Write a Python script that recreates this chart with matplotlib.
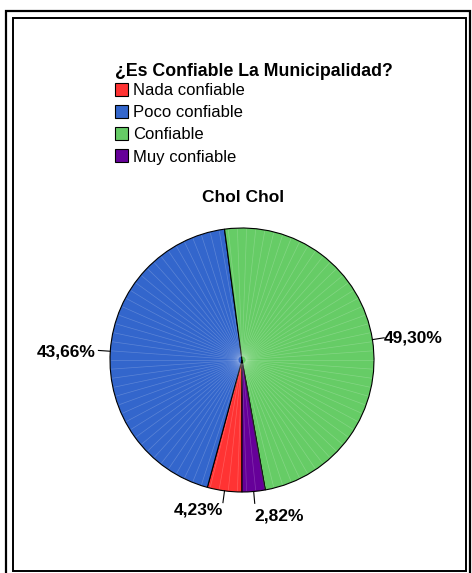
import numpy as np
import matplotlib
matplotlib.use("Agg")
import matplotlib.pyplot as plt
from matplotlib.patches import Patch, Rectangle

plt.rcParams['font.family'] = ['Liberation Sans', 'DejaVu Sans']

# data
categories = ["Nada confiable", "Poco confiable", "Confiable", "Muy confiable"]
percentages = [4.23, 43.66, 49.30, 2.82]
pct_labels = ["4,23%", "43,66%", "49,30%", "2,82%"]
colors = ["#FF3333", "#3366CC", "#66CC66", "#660099"]
legend_title = "¿Es Confiable La Municipalidad?"
pie_title = "Chol Chol"

W, H = 472, 573
fig = plt.figure(figsize=(W / 100, H / 100), dpi=100)

# double frame (pixel coords -> figure fraction)
def px_rect(x0, y0, x1, y1, lw, color="black"):
    r = Rectangle((x0 / W, 1 - y1 / H), (x1 - x0) / W, (y1 - y0) / H,
                  transform=fig.transFigure, fill=False, lw=lw, ec=color)
    fig.patches.append(r)

px_rect(6, 11, 470, 590, 1.6)
px_rect(13, 18, 466, 571, 1.4)

# pie axes: center (242, 360) px, radius 132 px
cx, cy, R = 242, 360, 132
ax = fig.add_axes([(cx - R) / W, (H - cy - R) / H, 2 * R / W, 2 * R / H])
wedges, _ = ax.pie(percentages, colors=colors, startangle=-90, counterclock=False,
                   wedgeprops=dict(edgecolor="black", linewidth=0.8))
ax.set_xlim(-1, 1)
ax.set_ylim(-1, 1)
ax.set_aspect("equal")
ax.axis("off")

# faint white radial lines (rendering texture)
for a in np.arange(0, 360, 4.0):
    t = np.deg2rad(a)
    ax.plot([0.03 * np.cos(t), 0.99 * np.cos(t)], [0.03 * np.sin(t), 0.99 * np.sin(t)],
            color="white", lw=0.5, alpha=0.2, zorder=3)
for w in wedges:
    w.set_zorder(2)

# leader lines and percentage labels
label_pos = [(-0.33, -1.14), (-1.33, 0.06), (1.30, 0.17), (0.28, -1.18)]
for w, lab, (tx, ty) in zip(wedges, pct_labels, label_pos):
    mid = np.deg2rad((w.theta1 + w.theta2) / 2)
    x0, y0 = np.cos(mid), np.sin(mid)
    ax.plot([x0, 1.09 * x0], [y0, 1.09 * y0], color="black", lw=0.8, clip_on=False)
    ax.text(tx, ty, lab, ha="center", va="center", fontsize=12.5, fontweight="bold",
            clip_on=False)

fig.text(243 / W, 1 - 197 / H, pie_title, ha="center", va="center",
         fontsize=12.5, fontweight="bold")

# legend title drawn separately so the gap under it stays tight
fig.text(115 / W, 1 - 72 / H, legend_title, ha="left", va="center",
         fontsize=12.8, fontweight="bold")
handles = [Patch(facecolor=c, edgecolor="black", lw=0.8) for c in colors]
leg = fig.legend(handles, categories, loc="upper left",
                 bbox_to_anchor=(115 / W, 1 - 83 / H), frameon=False,
                 fontsize=12, handlelength=0.8, handleheight=0.8,
                 handletextpad=0.3, labelspacing=0.42, borderpad=0.0,
                 borderaxespad=0)

fig.savefig("out.png", dpi=100)
